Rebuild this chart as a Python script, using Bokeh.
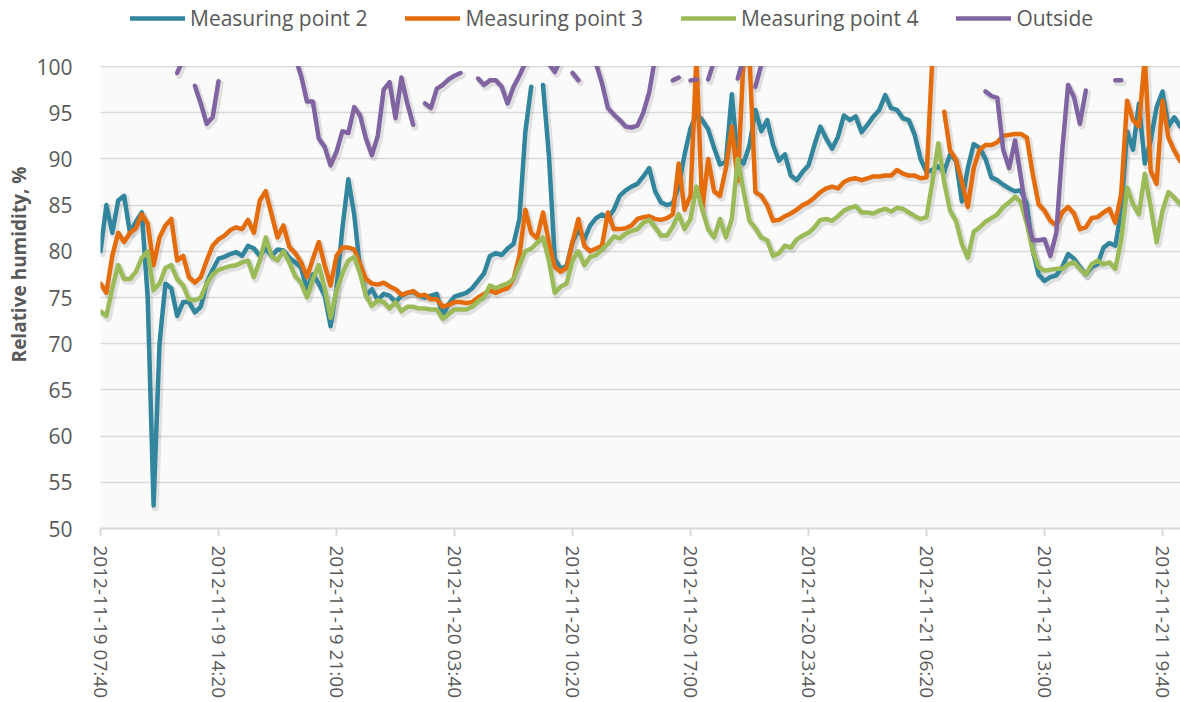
import math
from datetime import datetime, timedelta
from bokeh.plotting import figure
from bokeh.models import (Range1d, FixedTicker, DatetimeTickFormatter, Legend, LegendItem,
                          ColumnDataSource, Title, BoxAnnotation)
from bokeh.embed import file_html
from bokeh.resources import INLINE

N = float("nan")

# ---------------- data ----------------
start_label = "2012-11-19 07:40"
step_minutes = 20
end_label = "2012-11-21 20:41"

tick_labels = ["2012-11-19 07:40", "2012-11-19 14:20", "2012-11-19 21:00",
               "2012-11-20 03:40", "2012-11-20 10:20", "2012-11-20 17:00",
               "2012-11-20 23:40", "2012-11-21 06:20", "2012-11-21 13:00",
               "2012-11-21 19:40"]

y_ticks = [50, 55, 60, 65, 70, 75, 80, 85, 90, 95, 100]

series_names = ["Measuring point 2", "Measuring point 3", "Measuring point 4", "Outside"]

mp2 = [80, 85, 82, 85.5, 86, 82, 83.2, 84.2, 75, 52.5,
       70, 76.5, 76, 73, 74.5, 74.5, 73.4, 74, 76.6, 78,
       79.2, 79.4, 79.7, 79.9, 79.5, 80.6, 80.3, 79.5, 80.3, 79.5,
       80.2, 80.1, 79.3, 78.8, 78.2, 75.9, 77.5, 76.5, 75.2, 71.9,
       76, 82.5, 87.8, 84, 78, 75.2, 75.9, 74.7, 75.4, 75.2,
       74.5, 75.2, 75.5, 75.6, 75.2, 75, 75.2, 75.4, 73, 74.3,
       75.1, 75.3, 75.5, 76, 76.8, 77.6, 79.5, 79.8, 79.6, 80.3,
       80.8, 83.5, 92.9, 97.8, N, 98, 90.4, 79.2, 78.1, 78.4,
       81, 82.3, 81.3, 82.8, 83.6, 84, 83.6, 84.5, 86, 86.6,
       87, 87.3, 88.1, 89, 86.5, 85.3, 85, 85.2, 87, 90.5,
       93.3, 94.8, 94.2, 93.2, 91.2, 89.4, 89.7, 97, 90, 89.5,
       91.5, 95.3, 93, 94.2, 91.5, 89.8, 90.5, 88.2, 87.7, 88.6,
       89.3, 91.5, 93.5, 92.2, 91.1, 92.4, 94.7, 94.2, 94.6, 92.9,
       93.7, 94.6, 95.3, 96.9, 95.5, 95.3, 94.4, 94.2, 92.6, 90,
       88.6, 88.8, 89.2, 88.6, 90.5, 89.8, 85.4, 89, 91.6, 91.2,
       90, 88, 87.7, 87.2, 86.8, 86.5, 86.6, 85.1, 80.1, 77.5,
       76.8, 77.2, 77.4, 78.3, 79.7, 79.2, 78.3, 77.5, 78.3, 78.6,
       80.4, 80.9, 80.6, 84.4, 93, 91, 96, 89.5, 92, 95.6,
       97.3, 93.5, 94.5, 93.5]

mp3 = [76.5, 75.5, 79.5, 82, 81, 82, 82.5, 84, 83, 78.5,
       81.5, 82.8, 83.5, 79, 79.5, 77.2, 76.6, 77.2, 79, 80.6,
       81.3, 81.7, 82.3, 82.6, 82.4, 83.4, 82, 85.5, 86.5, 84,
       81.5, 82.8, 80.5, 79.8, 78.8, 77.2, 79.2, 81, 78.5, 76.3,
       79.5, 80.4, 80.4, 80.2, 78.6, 77, 76.5, 76.4, 76.6, 76.2,
       75.9, 75.3, 75.5, 75.7, 75.2, 75.3, 74.8, 74.8, 74, 74.2,
       74.5, 74.5, 74.4, 74.5, 75, 75.4, 75.8, 75.5, 75.8, 76,
       77, 79.5, 84.5, 82, 81.4, 84.2, 81, 78.3, 77.8, 78.2,
       81, 83.5, 80.6, 80, 80.3, 80.6, 84.2, 82.4, 82.4, 82.5,
       82.8, 83.5, 83.7, 83.8, 83.5, 83.4, 83.6, 84, 89.5, 84.5,
       86, 101, 84.5, 90, 86.5, 86, 89, 93.5, 87.6, 101,
       101, 86.4, 86, 85, 83.3, 83.4, 83.8, 84.1, 84.5, 85,
       85.3, 85.8, 86.4, 86.8, 87, 86.8, 87.5, 87.8, 87.9, 87.7,
       87.9, 88.1, 88.1, 88.2, 88.2, 88.8, 88.4, 88.2, 88.2, 87.9,
       88, 101, N, 95.1, 90.9, 89.9, 87.5, 84.8, 89, 91,
       91.5, 91.5, 91.8, 92.5, 92.6, 92.7, 92.7, 92.3, 88.4, 85.1,
       84.4, 83.3, 82.8, 84.2, 84.8, 84.1, 82.4, 82.6, 83.6, 83.7,
       84.2, 84.6, 83.1, 86.2, 96.3, 94.2, 93.5, 101, 88.7, 87.3,
       96.3, 92.3, 90.9, 89.8]

mp4 = [73.5, 73, 76, 78.5, 77, 77, 77.8, 79.3, 80, 75.8,
       76.5, 78.2, 78.5, 77, 76.3, 74.8, 74.7, 75, 76.5, 77.5,
       78, 78.2, 78.4, 78.5, 78.8, 79, 77.2, 79, 81.5, 79.5,
       79, 80, 78.8, 77.3, 76.6, 75, 77, 78.5, 76, 72.8,
       75.7, 77.6, 79, 79.4, 77.6, 75.2, 74.1, 74.7, 74.5, 73.8,
       74.5, 73.5, 74, 74, 73.8, 73.8, 73.7, 73.7, 72.7, 73.2,
       73.7, 73.7, 73.7, 74, 74.6, 75, 76.3, 76, 76.3, 76.5,
       77, 78.5, 80, 80.3, 80.9, 81.5, 79, 75.5, 76.2, 76.5,
       79, 80, 78.5, 79.4, 79.6, 80.2, 80.8, 81.6, 81.4, 81.9,
       82.2, 82.4, 83.1, 83.4, 82.6, 81.7, 81.7, 82.7, 84, 82.4,
       83.5, 87, 84.5, 82.4, 81.5, 83.5, 81.5, 83.5, 90, 86.5,
       83.3, 82.5, 81.5, 81.2, 79.5, 79.8, 80.6, 80.4, 81.3, 81.7,
       82, 82.6, 83.4, 83.5, 83.3, 83.8, 84.4, 84.7, 84.9, 84.2,
       84.2, 84.1, 84.4, 84.6, 84.3, 84.7, 84.6, 84.2, 83.8, 83.5,
       83.7, 87.5, 91.7, 87.5, 84.4, 83.3, 80.8, 79.3, 82.1, 82.6,
       83.2, 83.6, 84, 84.8, 85.3, 85.9, 85.3, 83, 80.1, 78.3,
       77.9, 78, 78.1, 78.1, 78.6, 78.8, 78.1, 77.5, 78.6, 79,
       78.6, 78.8, 78.1, 81.2, 86.9, 85.1, 84, 88.4, 84.8, 81,
       84.4, 86.4, 85.8, 85.1]

outside = ([N] * 13
           + [99.3, 100.8, N, 97.9, 96, 93.8, 94.5, 98.4]
           + [N] * 12
           + [101, 99, 96.2, 96.2, 92.2, 91.3, 89.3, 90.8, 93, 92.8, 95.6,
              94.7, 92.2, 90.4, 92.5, 97.5, 98.3, 94.4, 98.8, 96, 93.7]
           + [N]
           + [96, 95.5, 97.6, 98, 98.6, 99, 99.3]
           + [N, N]
           + [98.7, 98, 98.5, 98.5, 97.8, 96, 97.8, 99, 100.4]
           + [N, N, N]
           + [100.3, 99.4, 100.8]
           + [N]
           + [99.3, 98.5]
           + [N, N]
           + [100.3, 98.2, 95.5, 94.8, 94.2, 93.5, 93.4, 93.6, 95, 97.2, 101]
           + [N, N]
           + [98.5, 98.8]
           + [N]
           + [98.5, 98.6]
           + [N]
           + [98.6, 100.6]
           + [N, N, N]
           + [98.7, 100.9]
           + [N]
           + [97.8, 100.2]
           + [N] * 37
           + [97.3, 96.8, 96.6, 91, 89, 92, 88, 83.7, 81.2, 81.2, 81.3, 79.5,
              82, 90.9, 98, 96.7, 93.8, 97.4]
           + [N, N, N, N]
           + [98.5, 98.5]
           + [N] * 10)

colors = ["#31859C", "#E46C0A", "#9BBB59", "#8064A2"]

# ---------------- helpers ----------------
EPOCH = datetime(1970, 1, 1)


def to_ms(label):
    d = datetime.strptime(label, "%Y-%m-%d %H:%M")
    return (d - EPOCH).total_seconds() * 1000.0


t0 = datetime.strptime(start_label, "%Y-%m-%d %H:%M")
n = len(mp2)
times = [((t0 + timedelta(minutes=step_minutes * i)) - EPOCH).total_seconds() * 1000.0
         for i in range(n)]

x_start = to_ms(start_label)
x_end = to_ms(end_label)

FONT = "Open Sans"
TXT = "#595959"

# The frame spans the whole height down to the x axis; the band above 100 % hosts the legend.
Y_MIN, Y_MAX = 50, 100
PX_PER_UNIT = 462 / 50.0
y_top = Y_MAX + 66 / PX_PER_UNIT

p = figure(width=1180, height=702, output_backend="svg", toolbar_location=None,
           x_axis_type="datetime",
           x_range=Range1d(x_start, x_end), y_range=Range1d(Y_MIN, y_top),
           min_border_left=100, min_border_right=0, min_border_top=0,
           min_border_bottom=174)
p.outline_line_color = None
p.background_fill_color = "#fafafa"
p.border_fill_color = "white"

# grid
p.xgrid.grid_line_color = None
p.ygrid.grid_line_color = "#d9d9d9"
p.ygrid.grid_line_width = 1.5

# y axis
p.yaxis.ticker = FixedTicker(ticks=y_ticks)
p.yaxis.axis_line_color = None
p.yaxis.major_tick_line_color = None
p.yaxis.minor_tick_line_color = None
p.yaxis.major_label_text_font = FONT
p.yaxis.major_label_text_font_size = "21px"
p.yaxis.major_label_text_color = TXT
p.yaxis.major_label_standoff = 22

p.add_layout(Title(text="Relative humidity, %", align="center", offset=-10,
                   text_font=FONT, text_font_size="19px", text_font_style="bold",
                   text_color=TXT, standoff=4), "left")

# x axis
fmt = "%Y-%m-%d %H:%M"
p.xaxis.ticker = FixedTicker(ticks=[to_ms(s) for s in tick_labels])
p.xaxis.formatter = DatetimeTickFormatter(microseconds=fmt, milliseconds=fmt, seconds=fmt,
                                          minsec=fmt, minutes=fmt, hourmin=fmt, hours=fmt,
                                          days=fmt, months=fmt, years=fmt)
p.xaxis.major_label_orientation = "vertical"
p.xaxis.axis_line_color = "#d9d9d9"
p.xaxis.axis_line_width = 2
p.xaxis.major_tick_line_color = "#d9d9d9"
p.xaxis.major_tick_line_width = 2
p.xaxis.major_tick_out = 8
p.xaxis.major_tick_in = 0
p.xaxis.minor_tick_line_color = None
p.xaxis.major_label_text_font = FONT
p.xaxis.major_label_text_font_size = "19px"
p.xaxis.major_label_text_color = TXT
p.xaxis.major_label_standoff = 9

# shadows
dx = 6 * 60 * 1000.0
for ys in (mp2, mp3, mp4, outside):
    src = ColumnDataSource(dict(x=[t + dx for t in times], y=[v - 0.25 for v in ys]))
    p.line("x", "y", source=src, line_color="black", line_alpha=0.10, line_width=7,
           line_join="round", line_cap="round")

renderers = []
for ys, c in zip((mp2, mp3, mp4, outside), colors):
    src = ColumnDataSource(dict(x=times, y=ys))
    r = p.line("x", "y", source=src, line_color=c, line_width=4.5,
               line_join="round", line_cap="round")
    renderers.append(r)

# white band above the 100 % limit (lines are cut off there, as in the original)
p.add_layout(BoxAnnotation(bottom=Y_MAX + 0.06, fill_color="white", fill_alpha=1.0,
                           line_color=None))

items = [LegendItem(label=nm, renderers=[r]) for nm, r in zip(series_names, renderers)]
legend = Legend(items=items, orientation="horizontal", location=(30, 496),
                glyph_width=55, glyph_height=24, label_standoff=5, spacing=38,
                padding=0, margin=0, background_fill_alpha=0, border_line_color=None,
                label_text_font=FONT, label_text_font_size="21px", label_text_color=TXT)
p.add_layout(legend)

open("out.html", "w").write(file_html(p, INLINE))
